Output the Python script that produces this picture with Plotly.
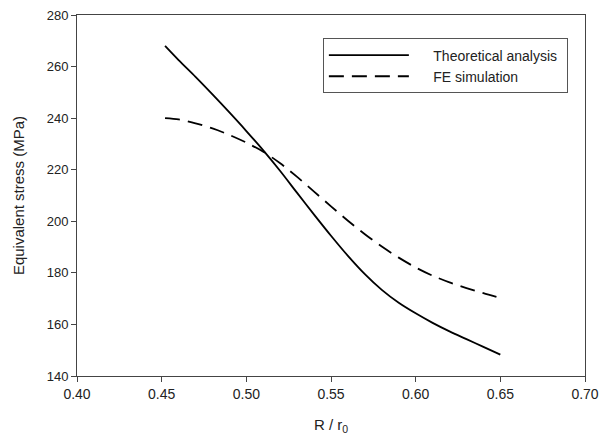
import plotly.graph_objects as go

r_values = [0.452, 0.46, 0.47, 0.48, 0.49, 0.50, 0.51, 0.52, 0.53, 0.54, 0.55,
            0.56, 0.57, 0.58, 0.59, 0.60, 0.61, 0.62, 0.63, 0.64, 0.65]
theoretical = [268, 262.5, 256, 249.2, 242.2, 235, 227.5, 219.5, 211, 202.6, 194.4,
               186.6, 179.5, 173.4, 168.4, 164.3, 160.6, 157.3, 154.3, 151.3, 148.3]
fe_simulation = [240, 239.5, 238, 236, 233.5, 230.5, 227, 222.5, 217.2, 211.5, 205.8,
                 200.2, 195, 190.2, 185.9, 182.1, 178.9, 176.3, 174.1, 172.1, 170.3]
series_names = ["Theoretical analysis", "FE simulation"]

pad = "\u00a0" * 5
fig = go.Figure()
fig.add_trace(go.Scatter(x=r_values, y=theoretical, mode="lines", name=pad + series_names[0] + "\u00a0",
                         line=dict(color="black", width=1.8, shape="spline", smoothing=0.8)))
fig.add_trace(go.Scatter(x=r_values, y=fe_simulation, mode="lines", name=pad + series_names[1],
                         line=dict(color="black", width=1.8, shape="spline", smoothing=0.8,
                                   dash="15px,8px")))

font_family = "Liberation Sans, Arial, sans-serif"
fig.update_layout(
    width=609, height=445,
    margin=dict(l=77, r=24, t=8, b=69),
    paper_bgcolor="white", plot_bgcolor="white",
    font=dict(family=font_family, color="#222", size=13),
    showlegend=True,
    legend=dict(x=0.484, y=0.935, xanchor="left", yanchor="top",
                bordercolor="#555", borderwidth=1, bgcolor="white",
                font=dict(size=14, family=font_family), itemwidth=80,
                tracegroupgap=0),
    xaxis=dict(range=[0.40, 0.70], dtick=0.05, tickformat=".2f",
               showgrid=False, zeroline=False, showline=True, linecolor="#444",
               linewidth=1, mirror=True, ticks="outside", ticklen=5, tickcolor="#444",
               title=dict(text="R / r<sub>0</sub>", font=dict(size=15), standoff=18),
               tickfont=dict(size=14)),
    yaxis=dict(range=[140, 280], dtick=20,
               showgrid=False, zeroline=False, showline=True, linecolor="#444",
               linewidth=1, mirror=True, ticks="outside", ticklen=5, tickcolor="#444",
               title=dict(text="Equivalent stress (MPa)", font=dict(size=15), standoff=18),
               tickfont=dict(size=13)),
)

fig.write_html("out.html")
